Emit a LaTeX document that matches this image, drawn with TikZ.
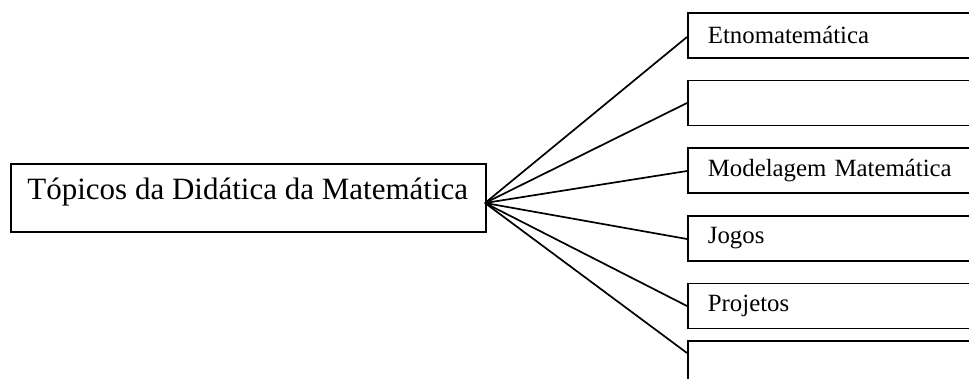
\documentclass[tikz,border=0pt]{standalone}
\usepackage{fontspec}
\setmainfont{Liberation Serif}
\begin{document}
\begin{tikzpicture}[x=0.5pt,y=-0.5pt,
  box/.style={draw,line width=0.9pt,rectangle,inner sep=0pt},
  topic/.style={box,anchor=west,minimum width=150pt,minimum height=22.5pt,
    inner xsep=10pt,text width=130pt,align=left,font=\fontsize{12.4}{14}\selectfont},
  link/.style={line width=0.85pt}]
\useasboundingbox (0,0) rectangle (969,379);
\clip (0,0) rectangle (969,379);
\node[box,anchor=north west,minimum width=237.5pt,minimum height=34pt] (root) at (10,163) {};
\node[anchor=base west,inner sep=0pt,font=\fontsize{15.5}{18}\selectfont] (roottxt) at (27,200) {Tópicos da Didática da Matemática};
\coordinate (hub) at (485,203);
\node[topic] (t1) at (687,35.5) {Etnomatemática};
\node[topic] (t2) at (687,103) {};
\node[topic] (t3) at (687,170.5) {Modelagem Matemática};
\node[topic] (t4) at (687,238.5) {Jogos};
\node[topic] (t5) at (687,306) {Projetos};
\node[box,anchor=north west,minimum width=150pt,minimum height=40pt] (t6) at (687,340) {};
\coordinate (e1) at (687,37);
\coordinate (e2) at (687,103);
\coordinate (e3) at (687,171);
\coordinate (e4) at (687,239);
\coordinate (e5) at (687,306);
\coordinate (e6) at (687,353);
\foreach \i in {1,...,6} \draw[link] (hub) -- (e\i);
\end{tikzpicture}
\end{document}
